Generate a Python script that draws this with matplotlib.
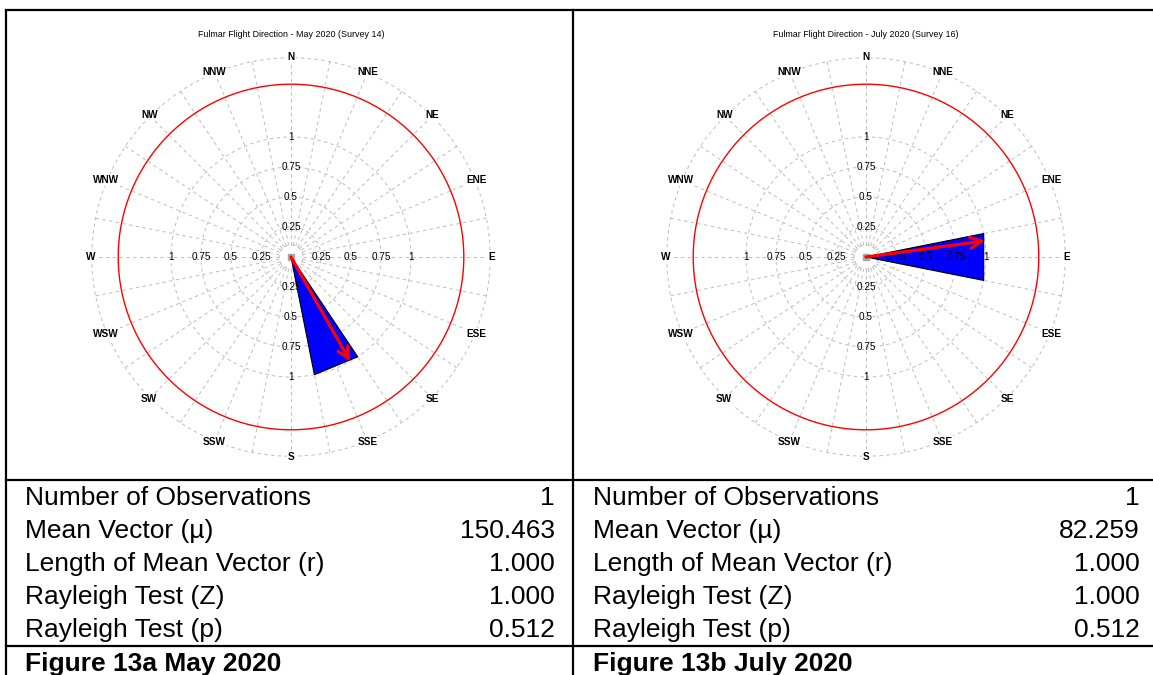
import numpy as np
import matplotlib
matplotlib.use('Agg')
import matplotlib.pyplot as plt
from matplotlib.patches import Circle, Polygon

plt.rcParams['font.family'] = ['Liberation Sans', 'DejaVu Sans']

# survey data
months = ['May 2020', 'July 2020']
surveys = [14, 16]
flight_dirs = [[150.463], [82.259]]     # observed bearings (deg)
n_obs = [1, 1]
mean_vector = [150.463, 82.259]
vector_length = [1.000, 1.000]
rayleigh_z = [1.000, 1.000]
rayleigh_p = [0.512, 0.512]
fig_labels = ['Figure 13a May 2020', 'Figure 13b July 2020']

compass = ['N', 'NNE', 'NE', 'ENE', 'E', 'ESE', 'SE', 'SSE',
           'S', 'SSW', 'SW', 'WSW', 'W', 'WNW', 'NW', 'NNW']
ring_ticks = [0.25, 0.5, 0.75, 1]
ring_labels = ['0.25', '0.5', '0.75', '1']

W, H = 1153, 675
fig = plt.figure(figsize=(W / 100, H / 100), dpi=100)

# background axes in pixel units for the table
bg = fig.add_axes([0, 0, 1, 1])
bg.set_xlim(0, W)
bg.set_ylim(H, 0)
bg.axis('off')

lw = 1.6
bg.plot([6, W], [10, 10], color='black', lw=lw)
bg.plot([6, 6], [10, H], color='black', lw=lw)
bg.plot([573, 573], [10, H], color='black', lw=lw)
bg.plot([6, W], [480, 480], color='black', lw=lw)
bg.plot([6, W], [646, 646], color='black', lw=lw)

row_names = ['Number of Observations', 'Mean Vector (\u00b5)', 'Length of Mean Vector (r)',
             'Rayleigh Test (Z)', 'Rayleigh Test (p)']
row_y = [498, 531, 564, 597, 630]
for i in range(2):
    x0 = [25, 593][i]
    x1 = [555, 1140][i]
    vals = ['%d' % n_obs[i], '%.3f' % mean_vector[i], '%.3f' % vector_length[i],
            '%.3f' % rayleigh_z[i], '%.3f' % rayleigh_p[i]]
    for name, v, y in zip(row_names, vals, row_y):
        bg.text(x0, y, name, fontsize=19, ha='left', va='center')
        bg.text(x1, y, v, fontsize=19, ha='right', va='center')
    bg.text(x0, 664, fig_labels[i], fontsize=19, fontweight='bold', ha='left', va='center')


def polar_xy(bearing, r):
    t = np.radians(bearing)
    return r * np.sin(t), r * np.cos(t)


def draw_rose(cx, cy, i):
    # 120 px per unit of radius
    half = 2.0
    ax = fig.add_axes([(cx - 240) / W, (H - cy - 240) / H, 480 / W, 480 / H])
    ax.set_xlim(-half, half)
    ax.set_ylim(-half, half)
    ax.set_aspect('equal')
    ax.axis('off')
    ax.patch.set_alpha(0)

    grey = '#bdbdbd'
    dash = (0, (3.5, 3.5))
    outer = 1.66
    for r in ring_ticks + [0.1, outer]:
        ax.add_patch(Circle((0, 0), r, fill=False, ec=grey, lw=0.7, ls=dash, zorder=1))
    for k in range(32):
        b = k * 11.25
        x0, y0 = polar_xy(b, 0.1)
        x1, y1 = polar_xy(b, outer)
        ax.plot([x0, x1], [y0, y1], color=grey, lw=0.7, ls=dash, zorder=1)

    ax.add_patch(Circle((0, 0), 1.44, fill=False, ec='red', lw=1.0, zorder=2))

    # rose petals: 16 bins centred on compass points
    counts = np.zeros(16)
    for d in flight_dirs[i]:
        counts[int(((d + 11.25) % 360) // 22.5)] += 1
    rel = counts / counts.max()
    for k in range(16):
        if rel[k] == 0:
            continue
        p0 = polar_xy(k * 22.5 - 11.25, rel[k])
        p1 = polar_xy(k * 22.5 + 11.25, rel[k])
        ax.add_patch(Polygon([(0, 0), p0, p1], closed=True, fc='#0000ff', ec='black',
                             lw=0.8, zorder=3))

    # radial scale labels along the four main axes
    for r, lab in zip(ring_ticks, ring_labels):
        for b in [0, 90, 180, 270]:
            x, y = polar_xy(b, r)
            ax.text(x, y, lab, fontsize=7.2, ha='center', va='center', zorder=4)

    for k, name in enumerate(compass):
        x, y = polar_xy(k * 22.5, outer + 0.01)
        ax.text(x, y, name, fontsize=7.2, fontweight='bold', ha='center', va='center', zorder=4,
                bbox=dict(boxstyle='square,pad=0.1', fc='white', ec='none'))

    ax.plot(0, 0, marker='s', ms=5, color='#a8a8a8', zorder=4)

    tx, ty = polar_xy(mean_vector[i], vector_length[i])
    ax.annotate('', xy=(tx, ty), xytext=(0, 0), zorder=5,
                arrowprops=dict(arrowstyle='->,head_length=0.8,head_width=0.4',
                                color='red', lw=2.3, shrinkA=0, shrinkB=0))

    ax.text(0, 1.855, 'Fulmar Flight Direction - %s (Survey %d)' % (months[i], surveys[i]),
            fontsize=6.4, ha='center', va='center')


draw_rose(291, 257, 0)
draw_rose(866, 257, 1)

fig.savefig('out.png', dpi=100)
